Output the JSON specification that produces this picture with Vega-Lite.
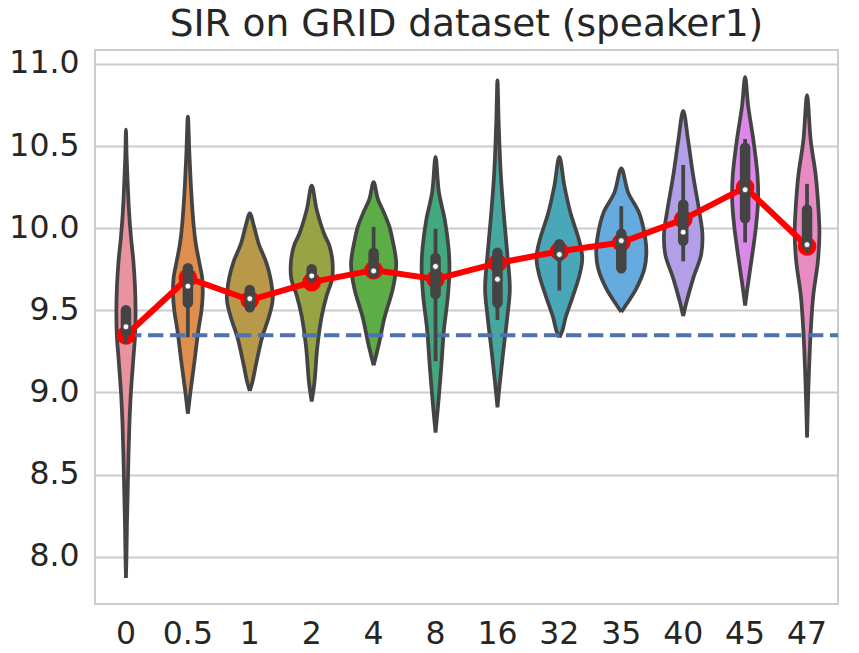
{
  "$schema": "https://vega.github.io/schema/vega-lite/v6.json",
  "autosize": {"type": "none"},
  "padding": {"left": 95, "top": 50, "right": 21, "bottom": 49},
  "width": 743,
  "height": 554,
  "background": "white",
  "config": {
    "font": "DejaVu Sans",
    "view": {"stroke": "#cccccc", "strokeWidth": 2},
    "axis": {"labelFont": "DejaVu Sans", "labelColor": "#262626", "ticks": false, "domain": false}
  },
  "title": {
    "text": "SIR on GRID dataset (speaker1)",
    "font": "DejaVu Sans",
    "fontSize": 37.5,
    "fontWeight": "normal",
    "color": "#262626",
    "anchor": "middle",
    "offset": 4
  },
  "datasets": {
    "violin": [
      {"c":"0","v":7.87,"w":0},{"c":"0","v":8.0,"w":0.008},{"c":"0","v":8.2,"w":0.016},{"c":"0","v":8.4,"w":0.028},{"c":"0","v":8.6,"w":0.04},{"c":"0","v":8.8,"w":0.055},{"c":"0","v":9.0,"w":0.08},{"c":"0","v":9.2,"w":0.118},{"c":"0","v":9.35,"w":0.148},{"c":"0","v":9.5,"w":0.155},{"c":"0","v":9.65,"w":0.145},{"c":"0","v":9.8,"w":0.12},{"c":"0","v":9.95,"w":0.08},{"c":"0","v":10.1,"w":0.05},{"c":"0","v":10.3,"w":0.025},{"c":"0","v":10.45,"w":0.01},{"c":"0","v":10.6,"w":0},
      {"c":"0","v":10.45,"w":-0.01},{"c":"0","v":10.3,"w":-0.025},{"c":"0","v":10.1,"w":-0.05},{"c":"0","v":9.95,"w":-0.08},{"c":"0","v":9.8,"w":-0.12},{"c":"0","v":9.65,"w":-0.145},{"c":"0","v":9.5,"w":-0.155},{"c":"0","v":9.35,"w":-0.148},{"c":"0","v":9.2,"w":-0.118},{"c":"0","v":9.0,"w":-0.08},{"c":"0","v":8.8,"w":-0.055},{"c":"0","v":8.6,"w":-0.04},{"c":"0","v":8.4,"w":-0.028},{"c":"0","v":8.2,"w":-0.016},{"c":"0","v":8.0,"w":-0.008},{"c":"0","v":7.87,"w":0},

      {"c":"0.5","v":8.87,"w":0},{"c":"0.5","v":9.0,"w":0.04},{"c":"0.5","v":9.17,"w":0.1},{"c":"0.5","v":9.38,"w":0.17},{"c":"0.5","v":9.5,"w":0.22},{"c":"0.5","v":9.6,"w":0.24},{"c":"0.5","v":9.7,"w":0.23},{"c":"0.5","v":9.8,"w":0.18},{"c":"0.5","v":9.9,"w":0.13},{"c":"0.5","v":10.01,"w":0.095},{"c":"0.5","v":10.22,"w":0.055},{"c":"0.5","v":10.45,"w":0.025},{"c":"0.5","v":10.68,"w":0},
      {"c":"0.5","v":10.45,"w":-0.025},{"c":"0.5","v":10.22,"w":-0.055},{"c":"0.5","v":10.01,"w":-0.095},{"c":"0.5","v":9.9,"w":-0.13},{"c":"0.5","v":9.8,"w":-0.18},{"c":"0.5","v":9.7,"w":-0.23},{"c":"0.5","v":9.6,"w":-0.24},{"c":"0.5","v":9.5,"w":-0.22},{"c":"0.5","v":9.38,"w":-0.17},{"c":"0.5","v":9.17,"w":-0.1},{"c":"0.5","v":9.0,"w":-0.04},{"c":"0.5","v":8.87,"w":0},

      {"c":"1","v":9.01,"w":0},{"c":"1","v":9.06,"w":0.04},{"c":"1","v":9.17,"w":0.1},{"c":"1","v":9.336,"w":0.2},{"c":"1","v":9.462,"w":0.31},{"c":"1","v":9.567,"w":0.37},{"c":"1","v":9.693,"w":0.335},{"c":"1","v":9.798,"w":0.26},{"c":"1","v":9.903,"w":0.145},{"c":"1","v":10.008,"w":0.07},{"c":"1","v":10.09,"w":0},
      {"c":"1","v":10.008,"w":-0.07},{"c":"1","v":9.903,"w":-0.145},{"c":"1","v":9.798,"w":-0.26},{"c":"1","v":9.693,"w":-0.335},{"c":"1","v":9.567,"w":-0.37},{"c":"1","v":9.462,"w":-0.31},{"c":"1","v":9.336,"w":-0.2},{"c":"1","v":9.17,"w":-0.1},{"c":"1","v":9.06,"w":-0.04},{"c":"1","v":9.01,"w":0},

      {"c":"2","v":8.945,"w":0},{"c":"2","v":9.064,"w":0.045},{"c":"2","v":9.274,"w":0.09},{"c":"2","v":9.462,"w":0.16},{"c":"2","v":9.588,"w":0.24},{"c":"2","v":9.693,"w":0.33},{"c":"2","v":9.798,"w":0.335},{"c":"2","v":9.9,"w":0.28},{"c":"2","v":9.966,"w":0.2},{"c":"2","v":10.113,"w":0.08},{"c":"2","v":10.26,"w":0},
      {"c":"2","v":10.113,"w":-0.08},{"c":"2","v":9.966,"w":-0.2},{"c":"2","v":9.9,"w":-0.28},{"c":"2","v":9.798,"w":-0.335},{"c":"2","v":9.693,"w":-0.33},{"c":"2","v":9.588,"w":-0.24},{"c":"2","v":9.462,"w":-0.16},{"c":"2","v":9.274,"w":-0.09},{"c":"2","v":9.064,"w":-0.045},{"c":"2","v":8.945,"w":0},

      {"c":"4","v":9.165,"w":0},{"c":"4","v":9.295,"w":0.085},{"c":"4","v":9.462,"w":0.18},{"c":"4","v":9.63,"w":0.31},{"c":"4","v":9.777,"w":0.365},{"c":"4","v":9.84,"w":0.35},{"c":"4","v":9.92,"w":0.31},{"c":"4","v":10.008,"w":0.256},{"c":"4","v":10.1,"w":0.16},{"c":"4","v":10.176,"w":0.07},{"c":"4","v":10.28,"w":0},
      {"c":"4","v":10.176,"w":-0.07},{"c":"4","v":10.1,"w":-0.16},{"c":"4","v":10.008,"w":-0.256},{"c":"4","v":9.92,"w":-0.31},{"c":"4","v":9.84,"w":-0.35},{"c":"4","v":9.777,"w":-0.365},{"c":"4","v":9.63,"w":-0.31},{"c":"4","v":9.462,"w":-0.18},{"c":"4","v":9.295,"w":-0.085},{"c":"4","v":9.165,"w":0},

      {"c":"8","v":8.755,"w":0},{"c":"8","v":8.959,"w":0.05},{"c":"8","v":9.169,"w":0.095},{"c":"8","v":9.378,"w":0.135},{"c":"8","v":9.588,"w":0.2},{"c":"8","v":9.756,"w":0.225},{"c":"8","v":9.88,"w":0.21},{"c":"8","v":10.05,"w":0.15},{"c":"8","v":10.218,"w":0.055},{"c":"8","v":10.435,"w":0},
      {"c":"8","v":10.218,"w":-0.055},{"c":"8","v":10.05,"w":-0.15},{"c":"8","v":9.88,"w":-0.21},{"c":"8","v":9.756,"w":-0.225},{"c":"8","v":9.588,"w":-0.2},{"c":"8","v":9.378,"w":-0.135},{"c":"8","v":9.169,"w":-0.095},{"c":"8","v":8.959,"w":-0.05},{"c":"8","v":8.755,"w":0},

      {"c":"16","v":8.91,"w":0},{"c":"16","v":9.064,"w":0.04},{"c":"16","v":9.253,"w":0.095},{"c":"16","v":9.462,"w":0.16},{"c":"16","v":9.63,"w":0.2},{"c":"16","v":9.84,"w":0.16},{"c":"16","v":10.05,"w":0.11},{"c":"16","v":10.322,"w":0.055},{"c":"16","v":10.637,"w":0.02},{"c":"16","v":10.9,"w":0},
      {"c":"16","v":10.637,"w":-0.02},{"c":"16","v":10.322,"w":-0.055},{"c":"16","v":10.05,"w":-0.11},{"c":"16","v":9.84,"w":-0.16},{"c":"16","v":9.63,"w":-0.2},{"c":"16","v":9.462,"w":-0.16},{"c":"16","v":9.253,"w":-0.095},{"c":"16","v":9.064,"w":-0.04},{"c":"16","v":8.91,"w":0},

      {"c":"32","v":9.335,"w":0},{"c":"32","v":9.378,"w":0.05},{"c":"32","v":9.462,"w":0.105},{"c":"32","v":9.588,"w":0.22},{"c":"32","v":9.714,"w":0.325},{"c":"32","v":9.819,"w":0.37},{"c":"32","v":9.924,"w":0.32},{"c":"32","v":10.092,"w":0.18},{"c":"32","v":10.26,"w":0.08},{"c":"32","v":10.435,"w":0},
      {"c":"32","v":10.26,"w":-0.08},{"c":"32","v":10.092,"w":-0.18},{"c":"32","v":9.924,"w":-0.32},{"c":"32","v":9.819,"w":-0.37},{"c":"32","v":9.714,"w":-0.325},{"c":"32","v":9.588,"w":-0.22},{"c":"32","v":9.462,"w":-0.105},{"c":"32","v":9.378,"w":-0.05},{"c":"32","v":9.335,"w":0},

      {"c":"35","v":9.49,"w":0},{"c":"35","v":9.546,"w":0.1},{"c":"35","v":9.63,"w":0.24},{"c":"35","v":9.756,"w":0.375},{"c":"35","v":9.861,"w":0.405},{"c":"35","v":9.966,"w":0.375},{"c":"35","v":10.092,"w":0.29},{"c":"35","v":10.218,"w":0.11},{"c":"35","v":10.365,"w":0},
      {"c":"35","v":10.218,"w":-0.11},{"c":"35","v":10.092,"w":-0.29},{"c":"35","v":9.966,"w":-0.375},{"c":"35","v":9.861,"w":-0.405},{"c":"35","v":9.756,"w":-0.375},{"c":"35","v":9.63,"w":-0.24},{"c":"35","v":9.546,"w":-0.1},{"c":"35","v":9.49,"w":0},

      {"c":"40","v":9.465,"w":0},{"c":"40","v":9.546,"w":0.05},{"c":"40","v":9.693,"w":0.16},{"c":"40","v":9.84,"w":0.29},{"c":"40","v":9.966,"w":0.31},{"c":"40","v":10.113,"w":0.255},{"c":"40","v":10.322,"w":0.16},{"c":"40","v":10.532,"w":0.08},{"c":"40","v":10.715,"w":0},
      {"c":"40","v":10.532,"w":-0.08},{"c":"40","v":10.322,"w":-0.16},{"c":"40","v":10.113,"w":-0.255},{"c":"40","v":9.966,"w":-0.31},{"c":"40","v":9.84,"w":-0.29},{"c":"40","v":9.693,"w":-0.16},{"c":"40","v":9.546,"w":-0.05},{"c":"40","v":9.465,"w":0},

      {"c":"45","v":9.53,"w":0},{"c":"45","v":9.63,"w":0.035},{"c":"45","v":9.798,"w":0.1},{"c":"45","v":10.008,"w":0.175},{"c":"45","v":10.176,"w":0.21},{"c":"45","v":10.322,"w":0.2},{"c":"45","v":10.532,"w":0.135},{"c":"45","v":10.742,"w":0.05},{"c":"45","v":10.92,"w":0},
      {"c":"45","v":10.742,"w":-0.05},{"c":"45","v":10.532,"w":-0.135},{"c":"45","v":10.322,"w":-0.2},{"c":"45","v":10.176,"w":-0.21},{"c":"45","v":10.008,"w":-0.175},{"c":"45","v":9.798,"w":-0.1},{"c":"45","v":9.63,"w":-0.035},{"c":"45","v":9.53,"w":0},

      {"c":"47","v":8.725,"w":0},{"c":"47","v":9.064,"w":0.025},{"c":"47","v":9.378,"w":0.06},{"c":"47","v":9.588,"w":0.1},{"c":"47","v":9.798,"w":0.175},{"c":"47","v":9.966,"w":0.2},{"c":"47","v":10.113,"w":0.185},{"c":"47","v":10.322,"w":0.14},{"c":"47","v":10.532,"w":0.06},{"c":"47","v":10.81,"w":0},
      {"c":"47","v":10.532,"w":-0.06},{"c":"47","v":10.322,"w":-0.14},{"c":"47","v":10.113,"w":-0.185},{"c":"47","v":9.966,"w":-0.2},{"c":"47","v":9.798,"w":-0.175},{"c":"47","v":9.588,"w":-0.1},{"c":"47","v":9.378,"w":-0.06},{"c":"47","v":9.064,"w":-0.025},{"c":"47","v":8.725,"w":0}
    ],
    "stats": [
      {"c":"0","lo":9.30,"q1":9.37,"med":9.40,"q3":9.50,"hi":9.52,"mean":9.348},
      {"c":"0.5","lo":9.336,"q1":9.546,"med":9.647,"q3":9.756,"hi":9.77,"mean":9.697},
      {"c":"1","lo":9.51,"q1":9.519,"med":9.571,"q3":9.624,"hi":9.63,"mean":9.563},
      {"c":"2","lo":9.69,"q1":9.70,"med":9.71,"q3":9.75,"hi":9.76,"mean":9.672},
      {"c":"4","lo":9.72,"q1":9.725,"med":9.74,"q3":9.85,"hi":10.008,"mean":9.745},
      {"c":"8","lo":9.19,"q1":9.599,"med":9.767,"q3":9.819,"hi":9.997,"mean":9.69},
      {"c":"16","lo":9.441,"q1":9.546,"med":9.689,"q3":9.85,"hi":9.86,"mean":9.787},
      {"c":"32","lo":9.62,"q1":9.829,"med":9.84,"q3":9.903,"hi":9.91,"mean":9.86},
      {"c":"35","lo":9.74,"q1":9.756,"med":9.924,"q3":9.966,"hi":10.134,"mean":9.913},
      {"c":"40","lo":9.798,"q1":9.924,"med":9.976,"q3":10.144,"hi":10.385,"mean":10.054},
      {"c":"45","lo":9.913,"q1":10.06,"med":10.234,"q3":10.49,"hi":10.543,"mean":10.249},
      {"c":"47","lo":9.85,"q1":9.90,"med":9.90,"q3":10.113,"hi":10.27,"mean":9.89}
    ],
    "baseline": [{"c":"0","y":9.348}]
  },
  "encoding": {
    "x": {
      "field": "c",
      "type": "nominal",
      "title": null,
      "scale": {"domain": ["0","0.5","1","2","4","8","16","32","35","40","45","47"], "paddingInner": 0, "paddingOuter": 0},
      "axis": {"labelFontSize": 31.5, "labelAngle": 0, "labelPadding": 14, "grid": false}
    }
  },
  "layer": [
    {
      "data": {"name": "violin"},
      "mark": {"type": "line", "filled": true, "stroke": "#444444", "strokeWidth": 3.75, "strokeJoin": "round", "interpolate": "catmull-rom"},
      "encoding": {
        "xOffset": {"field": "w", "type": "quantitative", "scale": {"domain": [-0.5, 0.5]}},
        "y": {
          "field": "v",
          "type": "quantitative",
          "title": null,
          "scale": {"domain": [7.712, 11.085], "nice": false, "zero": false},
          "axis": {"values": [8, 8.5, 9, 9.5, 10, 10.5, 11], "format": ".1f", "labelFontSize": 31.5, "labelPadding": 16, "gridColor": "#cccccc", "gridWidth": 1.9}
        },
        "color": {
          "field": "c",
          "type": "nominal",
          "legend": null,
          "scale": {
            "domain": ["0","0.5","1","2","4","8","16","32","35","40","45","47"],
            "range": ["#e8939f","#e08e4e","#b8994a","#98a343","#5cad45","#42a87f","#45a79e","#4aa7ba","#66abe0","#b29fe8","#db88ea","#e88bc2"]
          }
        },
        "detail": {"field": "c"},
        "order": {"value": null}
      }
    },
    {
      "data": {"name": "baseline"},
      "mark": {"type": "rule", "color": "#4c72b0", "strokeWidth": 4, "strokeDash": [15.4, 6.6]},
      "encoding": {
        "x": {"field": "c", "type": "nominal", "bandPosition": 0.5},
        "x2": {"value": "width"},
        "y": {"field": "y", "type": "quantitative"}
      }
    },
    {
      "data": {"name": "stats"},
      "mark": {"type": "line", "color": "#ff0000", "strokeWidth": 6, "strokeJoin": "round"},
      "encoding": {"y": {"field": "mean", "type": "quantitative"}}
    },
    {
      "data": {"name": "stats"},
      "mark": {"type": "point", "shape": "circle", "filled": true, "color": "#ff0000", "size": 350, "opacity": 1},
      "encoding": {"y": {"field": "mean", "type": "quantitative"}}
    },
    {
      "data": {"name": "stats"},
      "mark": {"type": "rule", "color": "#444444", "strokeWidth": 3.75},
      "encoding": {"y": {"field": "lo", "type": "quantitative"}, "y2": {"field": "hi"}}
    },
    {
      "data": {"name": "stats"},
      "mark": {"type": "rule", "color": "#444444", "strokeWidth": 10.5, "strokeCap": "round"},
      "encoding": {"y": {"field": "q1", "type": "quantitative"}, "y2": {"field": "q3"}}
    },
    {
      "data": {"name": "stats"},
      "mark": {"type": "point", "shape": "circle", "filled": true, "fill": "white", "stroke": "#444444", "strokeWidth": 0.8, "size": 34, "opacity": 1},
      "encoding": {"y": {"field": "med", "type": "quantitative"}}
    }
  ]
}
